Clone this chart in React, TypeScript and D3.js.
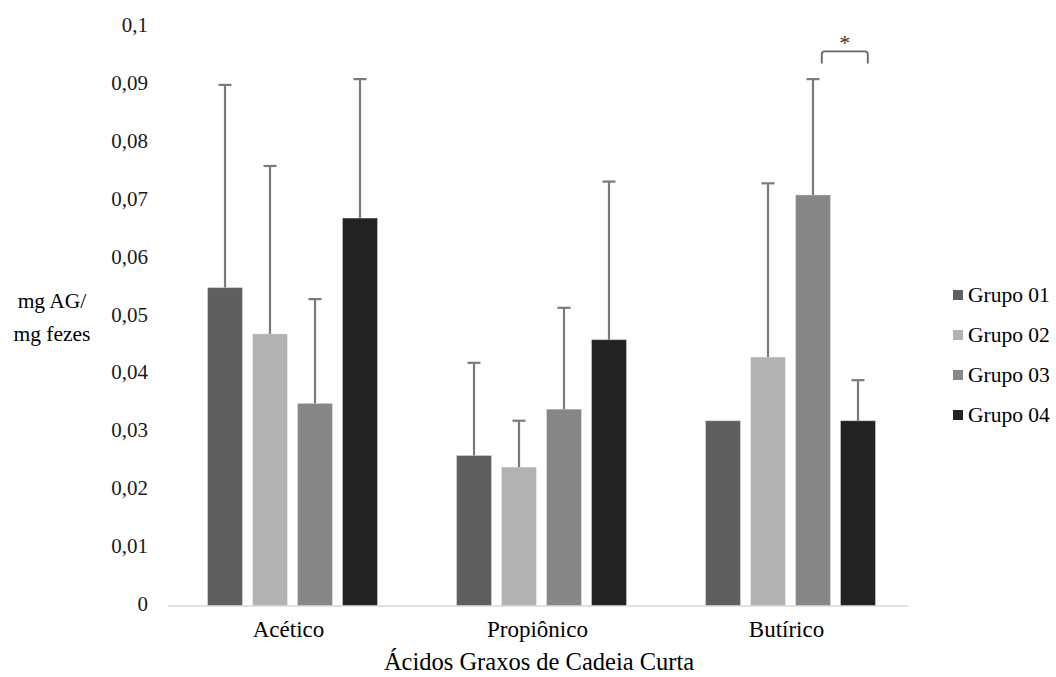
import React from "react";
import * as d3 from "d3";

const categories = ["Acético", "Propiônico", "Butírico"];
const groups = ["Grupo 01", "Grupo 02", "Grupo 03", "Grupo 04"];
const grupo01 = [0.055, 0.026, 0.032];
const grupo02 = [0.047, 0.024, 0.043];
const grupo03 = [0.035, 0.034, 0.071];
const grupo04 = [0.067, 0.046, 0.032];
const err01 = [0.035, 0.016, 0];
const err02 = [0.029, 0.008, 0.03];
const err03 = [0.018, 0.0175, 0.02];
const err04 = [0.024, 0.0273, 0.007];
const yTicks = [0, 0.01, 0.02, 0.03, 0.04, 0.05, 0.06, 0.07, 0.08, 0.09, 0.1];
const colors = ["#5f5f5f", "#b2b2b2", "#878787", "#222222"];

const means = [grupo01, grupo02, grupo03, grupo04];
const errs = [err01, err02, err03, err04];

const W = 1056;
const H = 677;
const FONT = "'Liberation Serif', 'Times New Roman', serif";

export default function App() {
  const x = d3.scaleBand<string>().domain(categories).range([168, 915]).paddingInner(0).paddingOuter(0);
  const xs = d3
    .scaleBand<string>()
    .domain(groups)
    .range([0, x.step()])
    .paddingInner(0.222)
    .paddingOuter(0.878);
  const y = d3.scaleLinear().domain([0, 0.1]).range([606, 27]);
  const fmt = (v: number) => (v === 0 ? "0" : String(+v.toFixed(2)).replace(".", ","));
  const bw = xs.bandwidth();

  // significance bracket between Grupo 03 and Grupo 04 for Butírico
  const bx0 = (x("Butírico") as number) + (xs("Grupo 03") as number) + bw * 0.75;
  const bx1 = (x("Butírico") as number) + (xs("Grupo 04") as number) + bw * 0.78;
  const byTop = y(0.0958);
  const byBot = y(0.0937);

  return (
    <svg
      width={W}
      height={H}
      style={{ position: "absolute", left: 0, top: 0, background: "#fff" }}
      fontFamily={FONT}
    >
      <rect width={W} height={H} fill="#fff" />
      {/* y tick labels */}
      {yTicks.map((t) => (
        <text
          key={t}
          x={148}
          y={y(t) - 2}
          textAnchor="end"
          dominantBaseline="central"
          fontSize={21}
          fill="#1a1a1a"
        >
          {fmt(t)}
        </text>
      ))}
      {/* y axis title */}
      <text x={52} y={308} textAnchor="middle" fontSize={21.5} fill="#000">
        mg AG/
      </text>
      <text x={52} y={341} textAnchor="middle" fontSize={21.5} fill="#000">
        mg fezes
      </text>
      {/* bars */}
      {categories.map((c, ci) =>
        groups.map((g, gi) => {
          const bx = (x(c) as number) + (xs(g) as number);
          const v = means[gi][ci];
          return (
            <rect
              key={c + g}
              x={bx}
              y={y(v)}
              width={bw}
              height={y(0) - y(v)}
              fill={colors[gi]}
              stroke="#ffffff"
              strokeOpacity={0.35}
              strokeWidth={1}
            />
          );
        })
      )}
      {/* error bars */}
      {categories.map((c, ci) =>
        groups.map((g, gi) => {
          const e = errs[gi][ci];
          if (!e) return null;
          const cx = (x(c) as number) + (xs(g) as number) + bw / 2;
          const v = means[gi][ci];
          return (
            <g key={"e" + c + g} stroke="#7a7a7a" strokeWidth={2.2}>
              <line x1={cx} x2={cx} y1={y(v)} y2={y(v + e)} />
              <line x1={cx - 6.5} x2={cx + 6.5} y1={y(v + e)} y2={y(v + e)} />
            </g>
          );
        })
      )}
      {/* axis line */}
      <line x1={168} x2={908} y1={y(0)} y2={y(0)} stroke="#d9d9d9" strokeWidth={1.5} />
      {/* x labels */}
      {categories.map((c) => (
        <text
          key={c}
          x={(x(c) as number) + x.bandwidth() / 2 - 4}
          y={637}
          textAnchor="middle"
          fontSize={23}
          fill="#000"
        >
          {c}
        </text>
      ))}
      <text x={539} y={670} textAnchor="middle" fontSize={24.5} fill="#000">
        Ácidos Graxos de Cadeia Curta
      </text>
      {/* significance bracket */}
      <path
        d={`M${bx0},${byBot} L${bx0},${byTop + 3} Q${bx0},${byTop} ${bx0 + 3},${byTop} L${bx1 - 3},${byTop} Q${bx1},${byTop} ${bx1},${byTop + 3} L${bx1},${byBot}`}
        fill="none"
        stroke="#666"
        strokeWidth={1.8}
      />
      <text x={(bx0 + bx1) / 2} y={byTop - 1} textAnchor="middle" fontSize={22} fill="#333">
        *
      </text>
      {/* legend */}
      {groups.map((g, i) => (
        <g key={g} transform={`translate(953, ${295 + i * 40})`}>
          <rect x={0} y={-5} width={10} height={10} fill={colors[i]} />
          <text x={15} y={0} dominantBaseline="central" fontSize={21.5} fill="#000">
            {g}
          </text>
        </g>
      ))}
    </svg>
  );
}
